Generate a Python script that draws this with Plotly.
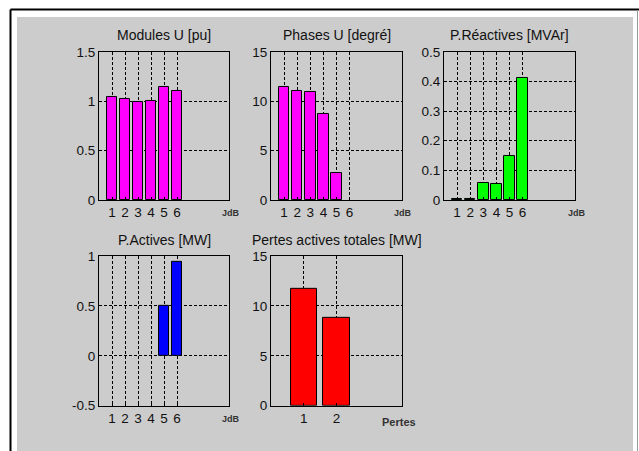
import plotly.graph_objects as go

# ---- data ----
jdb = [1, 2, 3, 4, 5, 6]
modules_u = [1.04, 1.02, 0.99, 1.00, 1.15, 1.10]
phases_u = [11.43, 11.03, 10.93, 8.73, 2.73, 0.0]
p_reactives = [0.003, 0.003, 0.057, 0.053, 0.148, 0.412]
p_actives = [0.0, 0.0, 0.0, 0.0, 0.50, 0.945]
pertes_x = [1, 2]
pertes = [11.7, 8.77]

titles = ["Modules U [pu]", "Phases U [degré]", "P.Réactives [MVAr]",
          "P.Actives [MW]", "Pertes actives totales [MW]"]
xlabels = ["JdB", "JdB", "JdB", "JdB", "Pertes"]

W, H = 639, 460
FONT = "Liberation Sans"

# empirical vertical correction of the rendering pipeline
SY, OY = 0.968, 7.0

def px(x):
    return x / W

def py(y):
    return 1 - ((y - OY) / SY) / H

# boxes in target pixels: (left, top, right, bottom)
boxes = [(99, 52, 229, 200), (271, 52, 402, 200), (444, 52, 575, 200),
         (99, 256, 229, 406), (271, 256, 402, 406)]
title_y = [35, 35, 35, 240, 240]
xlab_pos = [(231, 213), (403, 213), (577, 213), (231, 419), (399, 422)]

series = [
    (jdb, modules_u, "#ff00ff", [0, 10], [0, 1.5], [0, 0.5, 1, 1.5], ["0", "0.5", "1", "1.5"]),
    (jdb, phases_u, "#ff00ff", [0, 10], [0, 15], [0, 5, 10, 15], ["0", "5", "10", "15"]),
    (jdb, p_reactives, "#00ff00", [0, 10], [0, 0.5], [0, 0.1, 0.2, 0.3, 0.4, 0.5],
     ["0", "0.1", "0.2", "0.3", "0.4", "0.5"]),
    (jdb, p_actives, "#0000ff", [0, 10], [-0.5, 1], [-0.5, 0, 0.5, 1], ["-0.5", "0", "0.5", "1"]),
    (pertes_x, pertes, "#ff0000", [0, 4], [0, 15], [0, 5, 10, 15], ["0", "5", "10", "15"]),
]

fig = go.Figure()
layout = {}
annotations = []
for i, ((xs, ys, col, xr, yr, yt, ytt), (l, t, r, b)) in enumerate(zip(series, boxes)):
    n = "" if i == 0 else str(i + 1)
    lw = [1 if v != 0 else 0 for v in ys]
    fig.add_trace(go.Bar(x=xs, y=ys, width=0.8,
                         marker=dict(color=col, line=dict(color="black", width=lw)),
                         xaxis="x" + n, yaxis="y" + n, showlegend=False, hoverinfo="x+y"))
    common = dict(showline=True, linecolor="black", linewidth=1, mirror=True,
                  showgrid=True, gridcolor="black", gridwidth=1, griddash="3px,2px",
                  zeroline=False, ticks="inside", ticklen=3, tickcolor="black",
                  tickfont=dict(family=FONT, size=13.5, color="#111111"), fixedrange=True)
    layout["xaxis" + n] = dict(common, domain=[px(l), px(r)], range=xr, anchor="y" + n,
                               tickmode="array", tickvals=xs, ticktext=[str(v) for v in xs])
    layout["yaxis" + n] = dict(common, domain=[py(b), py(t)], range=yr, anchor="x" + n,
                               tickmode="array", tickvals=yt, ticktext=ytt)
    annotations.append(dict(text=titles[i], x=px((l + r) / 2), y=py(title_y[i]), xref="paper", yref="paper",
                            showarrow=False, font=dict(family=FONT, size=14, color="#111111"),
                            xanchor="center", yanchor="middle"))
    lx, ly = xlab_pos[i]
    annotations.append(dict(text="<b>" + xlabels[i] + "</b>", x=px(lx), y=py(ly),
                            xref="paper", yref="paper", showarrow=False,
                            font=dict(family=FONT, size=9 if xlabels[i] == "JdB" else 11, color="#333333"),
                            xanchor="center", yanchor="middle"))

shapes = [
    dict(type="rect", xref="paper", yref="paper", x0=px(17), x1=px(633), y0=0, y1=py(17),
         fillcolor="#cccccc", line=dict(width=0), layer="below"),
    dict(type="line", xref="paper", yref="paper", x0=px(10.5), x1=1, y0=py(9.5), y1=py(9.5),
         line=dict(color="black", width=2)),
    dict(type="line", xref="paper", yref="paper", x0=px(10.5), x1=px(10.5), y0=0, y1=py(9.5),
         line=dict(color="black", width=2)),
    dict(type="line", xref="paper", yref="paper", x0=px(637.5), x1=px(637.5), y0=0, y1=py(10),
         line=dict(color="#999999", width=1)),
]

fig.update_layout(**layout)
fig.update_layout(width=W, height=H, margin=dict(l=0, r=0, t=0, b=0),
                  paper_bgcolor="white", plot_bgcolor="white",
                  annotations=annotations, shapes=shapes, bargap=0)
fig.write_html("out.html", config={"displayModeBar": False},
               post_script="document.body.style.margin='0';document.body.style.overflow='hidden';")
